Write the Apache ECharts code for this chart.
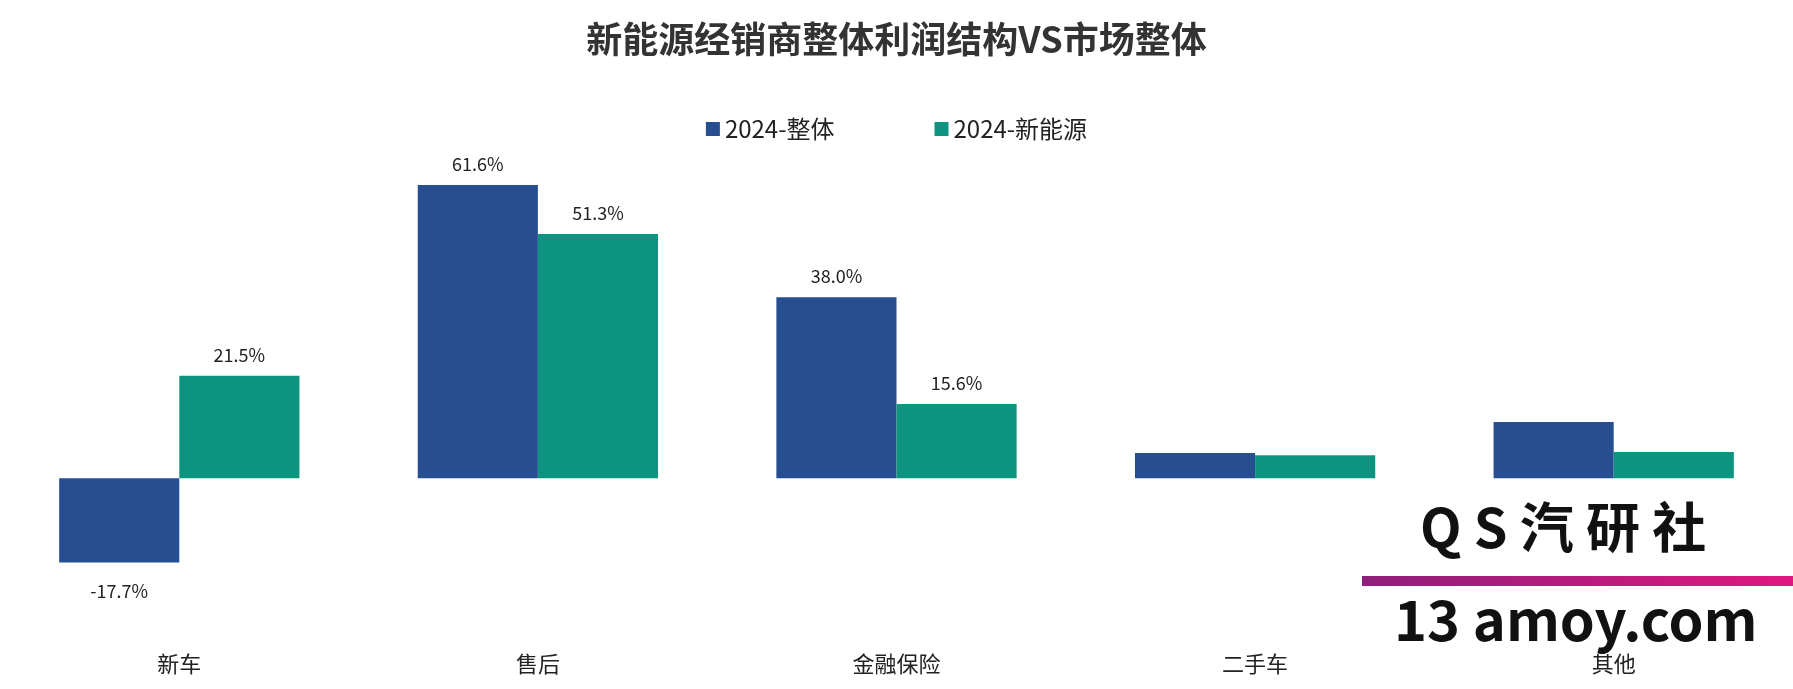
<!DOCTYPE html>
<html><head><meta charset="utf-8">
<script src="https://cdn.jsdelivr.net/npm/echarts@6/dist/echarts.min.js"></script>
<style>html,body{margin:0;padding:0;background:#fff}#c{width:1793px;height:689px}</style>
</head><body><div id="c"></div>
<script>
const categories = ['新车','售后','金融保险','二手车','其他'];
const total = [-17.7, 61.6, 38.0, 5.3, 11.8];
const nev = [21.5, 51.3, 15.6, 4.8, 5.5];
const labeled = [true, true, true, false, false];
const font = '"Noto Sans CJK SC", "Noto Sans", sans-serif';
const chart = echarts.init(document.getElementById('c'));
const lbl = {show:true, position:'top', distance:12, fontSize:18, color:'#222', fontFamily:font, formatter:p=>p.value.toFixed(1)+'%'};
chart.setOption({
  title:{text:'新能源经销商整体利润结构VS市场整体', left:'center', top:16, textStyle:{fontSize:36, fontWeight:'bold', color:'#333', fontFamily:font}},
  legend:{top:112, left:'center', itemGap:100, itemWidth:14, itemHeight:14, icon:'rect', textStyle:{fontSize:24, color:'#222', fontFamily:font}},
  grid:{left:0, right:0, top:145, bottom:68},
  xAxis:{type:'category', data:categories, axisLine:{show:false, onZero:false}, axisTick:{show:false},
    axisLabel:{fontSize:22, color:'#222', margin:32, fontFamily:font}},
  yAxis:{type:'value', min:-30, max:70, show:false, splitLine:{show:false}},
  series:[
    {name:'2024-整体', type:'bar', barGap:'0%', barCategoryGap:'33%', itemStyle:{color:'#264E91'}, label:lbl,
     data:total.map((v,i)=>({value:v,label:{show:labeled[i],position:v<0?'bottom':'top',distance:v<0?20:12}}))},
    {name:'2024-新能源', type:'bar', itemStyle:{color:'#0C9480'}, label:lbl,
     data:nev.map((v,i)=>({value:v,label:{show:labeled[i]}}))}
  ],
  graphic:[
    {type:'rect', shape:{x:1362,y:576,width:431,height:10}, style:{fill:new echarts.graphic.LinearGradient(0,0,1,0,[{offset:0,color:'#8E1F7A'},{offset:1,color:'#E0177E'}])}},
    {type:'text', x:1420, y:500, style:{text:'Q S 汽 研 社', fontSize:54, fontWeight:'bold', fill:'#111', fontFamily:font}},
    {type:'text', x:1394, y:592, style:{text:'13 amoy.com', fontSize:56, fontWeight:'bold', fill:'#111', fontFamily:font}}
  ]
});
</script></body></html>
